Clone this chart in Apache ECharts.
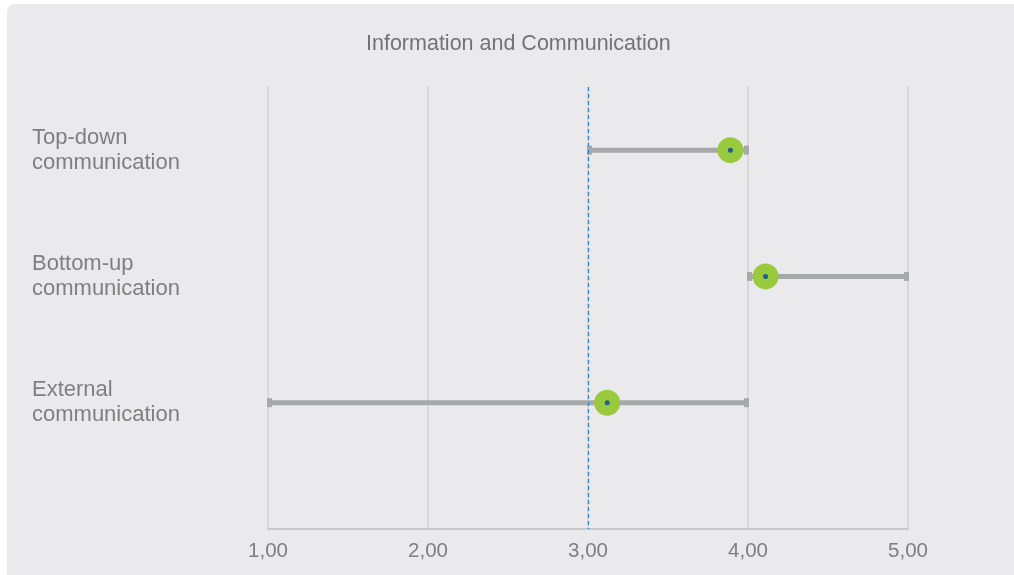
<!DOCTYPE html>
<html>
<head>
<meta charset="utf-8">
<script src="https://cdn.jsdelivr.net/npm/echarts@6/dist/echarts.min.js"></script>
<style>
  html, body { margin: 0; padding: 0; background: #ffffff; }
  #chart { width: 1014px; height: 575px; }
</style>
</head>
<body>
<div id="chart"></div>
<script>
// Survey items, one row each (top to bottom)
const categories = ['Top-down\ncommunication', 'Bottom-up\ncommunication', 'External\ncommunication'];
// Lowest and highest answer per item
const minValues = [3.0, 4.0, 1.0];
const maxValues = [4.0, 5.0, 4.0];
// Mean score per item
const meanValues = [3.89, 4.11, 3.12];
// Scale midpoint drawn as a dashed reference line
const referenceValue = 3.0;
// Score axis
const xMin = 1, xMax = 5, xStep = 1;

const rowPos = categories.map((_, i) => i + 0.5);

const chart = echarts.init(document.getElementById('chart'));

const fontFamily = 'Liberation Sans, Arial, sans-serif';

chart.setOption({
  animation: false,
  backgroundColor: '#ffffff',
  graphic: [{
    type: 'rect',
    z: -10,
    silent: true,
    shape: { x: 7, y: 4, width: 1030, height: 600, r: 8 },
    style: { fill: '#eaeaec' }
  }],
  title: {
    text: 'Information and Communication',
    left: 361,
    top: 28,
    textStyle: { fontFamily, fontSize: 21.5, fontWeight: 'normal', color: '#737373' }
  },
  grid: { left: 268, right: 106, top: 87, bottom: 46 },
  xAxis: {
    type: 'value',
    position: 'bottom',
    min: xMin, max: xMax, interval: xStep,
    axisLine: { show: true, onZero: false, lineStyle: { color: '#bfbfc1', width: 1.5 } },
    axisTick: { show: false },
    splitLine: { show: true, lineStyle: { color: '#d3d3d5', width: 1.5 } },
    axisLabel: {
      margin: 12,
      fontFamily, fontSize: 20.5, color: '#7f7f7f',
      formatter: v => v.toFixed(2).replace('.', ',')
    }
  },
  yAxis: {
    type: 'value',
    inverse: true,
    min: 0, max: 3.5, interval: 0.5,
    axisLine: { show: false },
    axisTick: { show: false },
    splitLine: { show: false },
    axisLabel: {
      align: 'left',
      margin: 236,
      fontFamily, fontSize: 22, lineHeight: 25, color: '#7f7f7f',
      formatter: v => {
        const i = v - 0.5;
        return Number.isInteger(i) && categories[i] ? categories[i] : '';
      }
    }
  },
  series: [
    {
      // min–max range with end caps
      type: 'custom',
      data: categories.map((_, i) => [minValues[i], maxValues[i], rowPos[i]]),
      encode: { x: [0, 1], y: 2 },
      renderItem: (params, api) => {
        const a = api.coord([api.value(0), api.value(2)]);
        const b = api.coord([api.value(1), api.value(2)]);
        const fill = '#a6a8a9';
        return {
          type: 'group',
          children: [
            { type: 'rect', shape: { x: a[0], y: a[1] - 2.5, width: b[0] - a[0], height: 5 }, style: { fill } },
            { type: 'rect', shape: { x: a[0] - 1, y: a[1] - 4.5, width: 5, height: 9 }, style: { fill } },
            { type: 'rect', shape: { x: b[0] - 4, y: b[1] - 4.5, width: 5, height: 9 }, style: { fill } }
          ]
        };
      },
      z: 2
    },
    {
      type: 'scatter',
      data: categories.map((_, i) => [meanValues[i], rowPos[i]]),
      symbol: 'circle',
      symbolSize: 26,
      itemStyle: { color: '#99c93c', opacity: 1 },
      z: 4,
      markLine: {
        silent: true,
        symbol: 'none',
        label: { show: false },
        lineStyle: { color: '#2f86c9', type: [4, 3], width: 1.3 },
        data: [[{ coord: [referenceValue, 0] }, { coord: [referenceValue, 3.5] }]]
      }
    },
    {
      type: 'scatter',
      data: categories.map((_, i) => [meanValues[i], rowPos[i]]),
      symbol: 'circle',
      symbolSize: 5,
      itemStyle: { color: '#1f5f8f', opacity: 1 },
      z: 5
    }
  ]
});
</script>
</body>
</html>
